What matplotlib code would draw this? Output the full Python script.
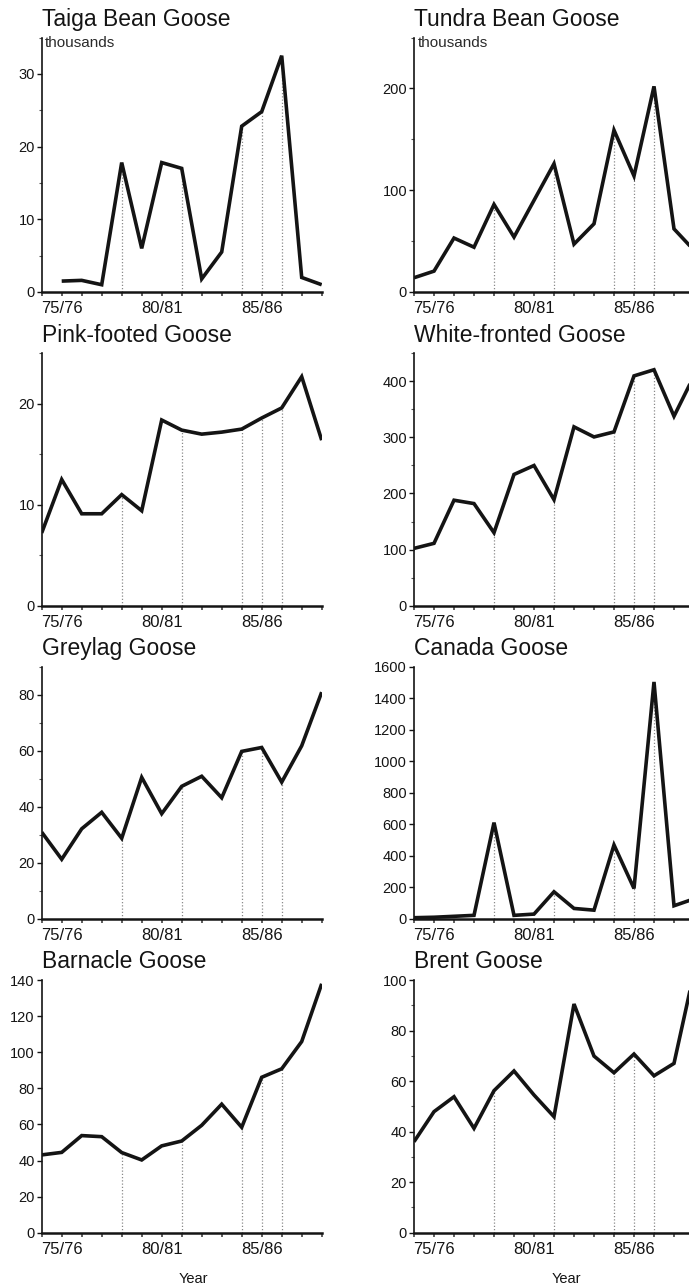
import matplotlib
matplotlib.use("Agg")
import matplotlib.pyplot as plt
from matplotlib.ticker import MultipleLocator, FixedLocator, NullLocator
import numpy as np

plt.rcParams["font.family"] = ["Liberation Sans", "DejaVu Sans"]

# Winter seasons 1974/75 .. 1988/89 (index 0 .. 14)
seasons = ["74/75", "75/76", "76/77", "77/78", "78/79", "79/80", "80/81", "81/82",
           "82/83", "83/84", "84/85", "85/86", "86/87", "87/88", "88/89"]
labelled_seasons = ["75/76", "80/81", "85/86"]
marked_seasons = ["78/79", "81/82", "84/85", "85/86", "86/87"]

# Numbers of geese (thousands)
taiga_bean = [np.nan, 1.5, 1.6, 1.0, 17.8, 6.0, 17.8, 17.0, 1.8, 5.5, 22.8, 24.8, 32.5, 2.0, 1.0]
tundra_bean = [14, 20.5, 53, 44, 86, 54, 90, 126, 47, 67, 159, 114, 202, 62, 41]
pink_footed = [7.2, 12.5, 9.1, 9.1, 11.0, 9.4, 18.4, 17.4, 17.0, 17.2, 17.5, 18.6, 19.6, 22.7, 16.4]
white_fronted = [102, 111, 188, 182, 130, 234, 250, 189, 319, 301, 310, 410, 421, 338, 410]
greylag = [30.9, 21.2, 32.1, 38.0, 28.7, 50.5, 37.5, 47.3, 50.9, 43.2, 59.8, 61.2, 48.8, 61.8, 81.0]
canada = [5, 8, 14, 20, 610, 20, 28, 170, 64, 53, 468, 191, 1505, 81, 125]
barnacle = [43.1, 44.5, 53.8, 53.2, 44.4, 40.3, 48.1, 50.8, 59.5, 71.2, 58.4, 86.1, 90.8, 105.9, 137.9]
brent = [36, 47.9, 53.8, 41.3, 56.2, 64, 54.5, 45.9, 90.5, 69.9, 63.3, 70.7, 62.1, 67, 103]

panels = [
    # title, values, y max, major step, minor step, column, row
    ("Taiga Bean Goose", taiga_bean, 35, 10, 5, 0, 0),
    ("Tundra Bean Goose", tundra_bean, 250, 100, 50, 1, 0),
    ("Pink-footed Goose", pink_footed, 25, 10, 5, 0, 1),
    ("White-fronted Goose", white_fronted, 450, 100, 50, 1, 1),
    ("Greylag Goose", greylag, 90, 20, 10, 0, 2),
    ("Canada Goose", canada, 1600, 200, None, 1, 2),
    ("Barnacle Goose", barnacle, 140, 20, None, 0, 3),
    ("Brent Goose", brent, 100, 20, 10, 1, 3),
]

W, H = 689, 1287
fig = plt.figure(figsize=(W / 100, H / 100), dpi=100)
fig.patch.set_facecolor("white")

col_left = [41.7, 414.0]
col_width = 280.0
row_box = [(37.5, 292.0), (353.5, 605.5), (667.0, 918.5), (980.0, 1232.7)]

x = np.arange(len(seasons))
ink = "#141414"

for title, values, ymax, major, minor, col, row in panels:
    top, bottom = row_box[row]
    ax = fig.add_axes([col_left[col] / W, 1 - bottom / H,
                       col_width / W, (bottom - top) / H])
    vals = np.asarray(values, dtype=float)

    # dotted drop lines at selected seasons
    for s in marked_seasons:
        i = seasons.index(s)
        if np.isfinite(vals[i]):
            ax.vlines(i, 0, vals[i], colors="#8a8a8a", linestyles=(0, (1, 1.6)),
                      linewidth=0.9, zorder=1)

    ax.plot(x, vals, color=ink, linewidth=2.6, solid_joinstyle="miter",
            solid_capstyle="butt", zorder=3, clip_on=True)

    ax.set_xlim(0, len(seasons) - 1)
    ax.set_ylim(0, ymax)

    for side in ("top", "right"):
        ax.spines[side].set_visible(False)
    ax.spines["left"].set_linewidth(1.2)
    ax.spines["bottom"].set_linewidth(1.8)
    ax.spines["left"].set_color(ink)
    ax.spines["bottom"].set_color(ink)

    ax.xaxis.set_major_locator(FixedLocator(x))
    ax.set_xticklabels([s if s in labelled_seasons else "" for s in seasons])
    ax.tick_params(axis="x", which="major", direction="out", length=3, width=1.1,
                   pad=3.8, labelsize=12, colors="#333333", labelcolor=ink)

    ax.yaxis.set_major_locator(MultipleLocator(major))
    if minor:
        ax.yaxis.set_minor_locator(MultipleLocator(minor))
    else:
        ax.yaxis.set_minor_locator(NullLocator())
    ax.tick_params(axis="y", which="major", direction="out", length=3.5, width=1.0,
                   pad=1.5, labelsize=10.5, colors=ink)
    ax.tick_params(axis="y", which="minor", direction="out", length=2.5, width=0.8,
                   colors="#555555")

    ax.annotate(title, xy=(0, 1), xycoords="axes fraction", xytext=(0, 8.5),
                textcoords="offset points", ha="left", va="baseline",
                fontsize=16.5, color=ink)

    if row == 0:
        ax.annotate("thousands", xy=(0, 1), xycoords="axes fraction",
                    xytext=(2.5, -6.8), textcoords="offset points",
                    ha="left", va="baseline", fontsize=11, color="#2a2a2a")

    if row == 3:
        ax.annotate("Year", xy=(7.6, 0), xycoords=("data", "axes fraction"),
                    xytext=(0, -36.5), textcoords="offset points",
                    ha="center", va="baseline", fontsize=10.5, color=ink)

fig.savefig("out.png", dpi=100, facecolor="white")
